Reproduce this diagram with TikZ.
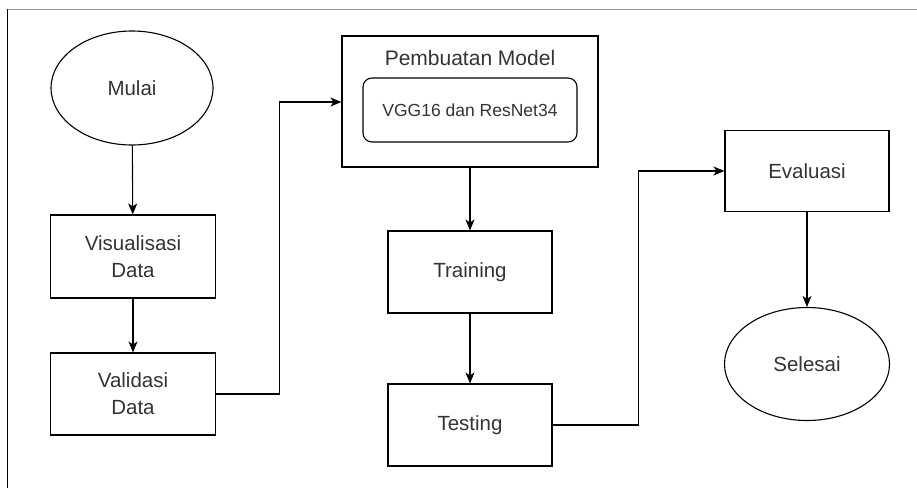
\documentclass[tikz,border=0pt]{standalone}
\usepackage{fontspec}
\setmainfont{Liberation Sans}
\usetikzlibrary{arrows.meta,shapes.geometric}
\definecolor{txt}{HTML}{333333}
\definecolor{rule}{HTML}{999999}
\begin{document}
\begin{tikzpicture}[x=1pt,y=-1pt,
  box/.style={draw=black,line width=1.1pt,rectangle,inner sep=0pt,text=txt,
    font=\fontsize{20.5}{27}\selectfont,align=center},
  term/.style={draw=black,line width=1.1pt,ellipse,inner sep=0pt,text=txt,
    font=\fontsize{20.5}{27}\selectfont},
  flow/.style={draw=black,line width=1.1pt,
    -{Stealth[length=11pt,width=9pt,inset=3pt]}}]
\useasboundingbox (0,0) rectangle (917,488);
% frame edges
\draw[rule,line width=1.3pt] (7,9.5) -- (917,9.5);
\draw[black,line width=1.3pt] (7.8,9) -- (7.8,488);

% left column
\node[term,minimum width=162pt,minimum height=114pt] (mulai) at (132,88) {Mulai};
\node[box,minimum width=165pt,minimum height=83pt] (vis) at (133,256.5) {Visualisasi\\Data};
\node[box,minimum width=165pt,minimum height=82pt] (val) at (133,394) {Validasi\\Data};

% model block
\node[box,minimum width=256pt,minimum height=131pt] (model) at (470,101.5) {};
\node[text=txt,font=\fontsize{21}{25}\selectfont] (title) at (470,58) {Pembuatan Model};
\node[draw=black,line width=1.1pt,rounded corners=9pt,minimum width=214pt,minimum height=64pt,
  text=txt,font=\fontsize{17.5}{21}\selectfont] (arch) at (470,110) {VGG16 dan ResNet34};

% middle column
\node[box,minimum width=164pt,minimum height=82pt] (train) at (470,272) {Training};
\node[box,minimum width=164pt,minimum height=82pt] (test) at (470,425) {Testing};

% right column
\node[box,minimum width=164pt,minimum height=81pt] (eval) at (807,171) {Evaluasi};
\node[term,minimum width=165pt,minimum height=113pt] (done) at (807,364) {Selesai};

% connectors
\draw[flow] (mulai) -- (vis);
\draw[flow] (vis) -- (val);
\draw[flow] (val.east) -- ++(63,0) |- (model.west |- 0,102);
\draw[flow] (model) -- (train);
\draw[flow] (train) -- (test);
\draw[flow] (test.east) -- ++(86,0) |- (eval.west);
\draw[flow] (eval) -- (done);
\end{tikzpicture}
\end{document}
